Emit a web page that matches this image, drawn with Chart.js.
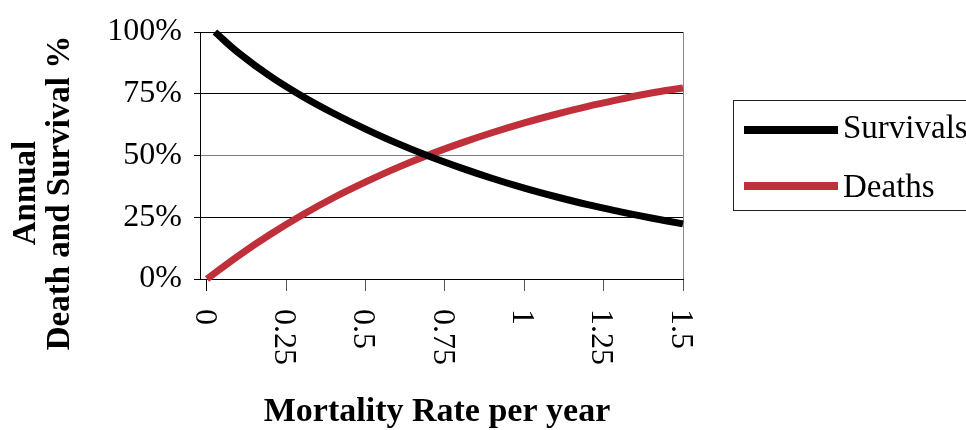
<!DOCTYPE html>
<html>
<head>
<meta charset="utf-8">
<script src="https://cdn.jsdelivr.net/npm/chart.js@4/dist/chart.umd.min.js"></script>
<style>
  html, body { margin: 0; padding: 0; background: #fff; }
  #wrap { width: 966px; height: 430px; position: relative; }
</style>
</head>
<body>
<div id="wrap"><canvas id="c" width="966" height="430"></canvas></div>
<script>
// ---- Data ----
const survivalRates = [0.025, 0.1, 0.2, 0.3, 0.4, 0.5, 0.6, 0.7, 0.8, 0.9, 1.0, 1.1, 1.2, 1.3, 1.4, 1.5];
const survivalPct   = [100, 91.5, 82, 74, 67, 60.7, 54.9, 49.7, 45, 40.7, 36.8, 33.3, 30.1, 27.3, 24.7, 22.3];
const deathRates    = [0, 0.1, 0.2, 0.3, 0.4, 0.5, 0.6, 0.7, 0.8, 0.9, 1.0, 1.1, 1.2, 1.3, 1.4, 1.5];
const deathPct      = [0, 9.5, 18.1, 25.9, 33, 39.3, 45.1, 50.3, 55, 59.3, 63.2, 66.7, 69.9, 72.7, 75.3, 77.3];
const xTickValues   = [0, 0.25, 0.5, 0.75, 1, 1.25, 1.5];
const xTickLabels   = ['0', '0.25', '0.5', '0.75', '1', '1.25', '1.5'];
const yTickValues   = [0, 25, 50, 75, 100];
const seriesNames   = ['Survivals', 'Deaths'];
const seriesColors  = ['#000000', '#C0303A'];
const xTitle = 'Mortality Rate per year';
const yTitleLines = ['Annual', 'Death and Survival %'];

const FONT = '"Liberation Serif", "Times New Roman", serif';

const survivalData = survivalRates.map((r, i) => ({ x: r, y: survivalPct[i] }));
const deathData = deathRates.map((r, i) => ({ x: r, y: deathPct[i] }));

const decorPlugin = {
  id: 'decor',
  afterDraw(chart) {
    const ctx = chart.ctx;
    const xs = chart.scales.x;
    const ca = chart.chartArea;
    ctx.save();
    ctx.fillStyle = '#000';
    // rotated x tick labels (clockwise, reading top to bottom)
    ctx.font = '32px ' + FONT;
    xTickValues.forEach((v, i) => {
      const px = xs.getPixelForValue(v);
      ctx.save();
      ctx.translate(px - 3, ca.bottom + 30);
      ctx.rotate(Math.PI / 2);
      ctx.textAlign = 'left';
      ctx.textBaseline = 'middle';
      ctx.fillText(xTickLabels[i], 0, 0);
      ctx.restore();
    });
    // x title
    ctx.font = 'bold 34px ' + FONT;
    ctx.textAlign = 'center';
    ctx.textBaseline = 'alphabetic';
    ctx.fillText(xTitle, 437, 421);
    // y title (two lines, rotated counter-clockwise)
    ctx.font = 'bold 33px ' + FONT;
    ctx.textBaseline = 'middle';
    const cy = 193;
    [[24, yTitleLines[0]], [58, yTitleLines[1]]].forEach(([x, t]) => {
      ctx.save();
      ctx.translate(x + 2, cy);
      ctx.rotate(-Math.PI / 2);
      ctx.fillText(t, 0, 0);
      ctx.restore();
    });
    // legend
    ctx.lineWidth = 1;
    ctx.strokeStyle = '#222';
    ctx.strokeRect(733.5, 100.5, 260, 110);
    const ly = [130, 186];
    const lb = [138, 197];
    ctx.font = '33px ' + FONT;
    ctx.textAlign = 'left';
    ctx.textBaseline = 'alphabetic';
    seriesNames.forEach((n, i) => {
      ctx.strokeStyle = seriesColors[i];
      ctx.lineWidth = 8;
      ctx.beginPath();
      ctx.moveTo(744, ly[i]);
      ctx.lineTo(838, ly[i]);
      ctx.stroke();
      ctx.fillStyle = '#000';
      ctx.fillText(n, 843, lb[i]);
    });
    ctx.restore();
  }
};

new Chart(document.getElementById('c'), {
  type: 'line',
  data: {
    datasets: [
      { label: seriesNames[0], data: survivalData, borderColor: seriesColors[0], backgroundColor: seriesColors[0],
        borderWidth: 7, pointRadius: 0, tension: 0.4, clip: false, fill: false },
      { label: seriesNames[1], data: deathData, borderColor: seriesColors[1], backgroundColor: seriesColors[1],
        borderWidth: 7, pointRadius: 0, tension: 0.4, clip: false, fill: false }
    ]
  },
  options: {
    responsive: false,
    animation: false,
    devicePixelRatio: 1,
    layout: { padding: { left: 0, top: 32, right: 283, bottom: 0 } },
    plugins: { legend: { display: false }, tooltip: { enabled: false }, title: { display: false } },
    scales: {
      x: {
        type: 'linear',
        min: -0.022,
        max: 1.5,
        afterBuildTicks: (s) => { s.ticks = xTickValues.map(v => ({ value: v })); },
        afterFit: (s) => { s.height = 151; },
        ticks: { display: false },
        grid: {
          drawOnChartArea: true,
          color: (c) => (c.tick && c.tick.value === 1.5) ? '#888888' : 'rgba(0,0,0,0)',
          tickColor: (c) => (c.tick && c.tick.value === 0) ? '#000' : '#555',
          tickLength: 12,
          lineWidth: 1
        },
        border: { display: true, color: '#000', width: 1 }
      },
      y: {
        min: 0,
        max: 100,
        afterBuildTicks: (s) => { s.ticks = yTickValues.map(v => ({ value: v })); },
        afterFit: (s) => { s.width = 200; },
        ticks: {
          color: '#000',
          font: { family: FONT, size: 32 },
          padding: 12,
          callback: (v) => v + '%'
        },
        grid: {
          color: (c) => (c.tick && c.tick.value === 50) ? '#808080' : '#000',
          tickColor: '#000',
          tickLength: 6,
          lineWidth: 1
        },
        border: { display: true, color: '#000', width: 1 }
      }
    }
  },
  plugins: [decorPlugin]
});
</script>
</body>
</html>
